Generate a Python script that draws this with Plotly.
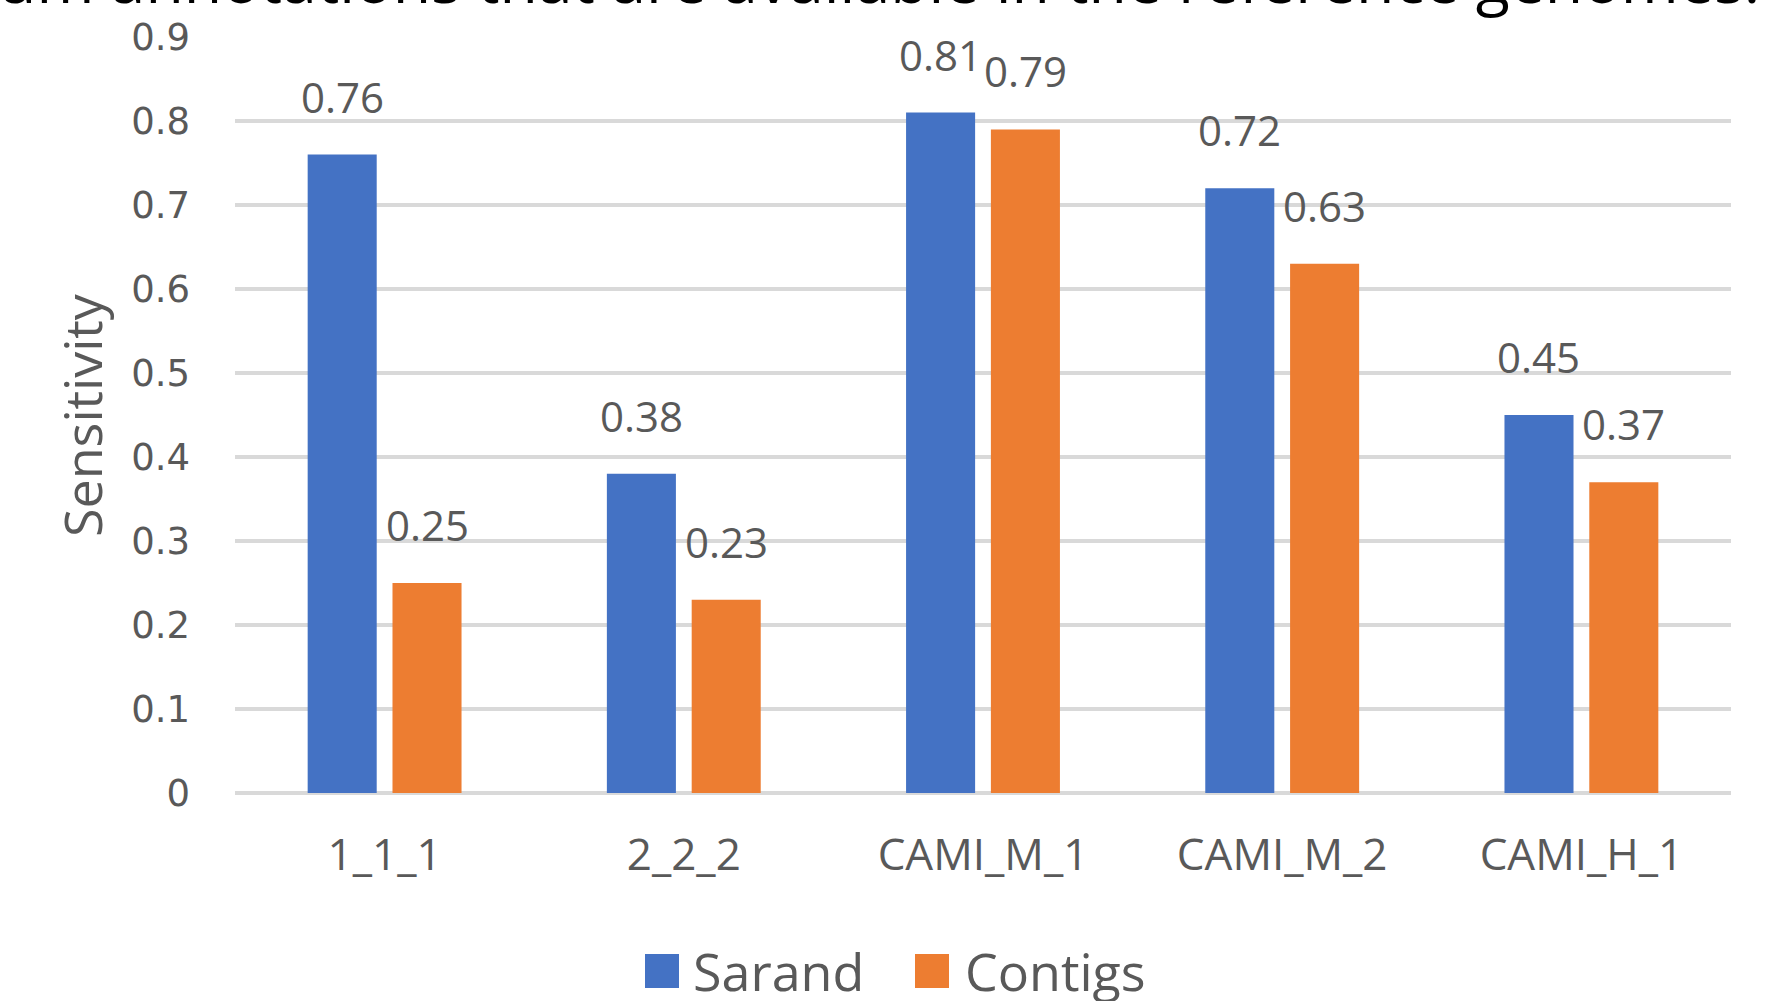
import plotly.graph_objects as go

categories = ["1_1_1", "2_2_2", "CAMI_M_1", "CAMI_M_2", "CAMI_H_1"]
series_names = ["Sarand", "Contigs"]
sarand = [0.76, 0.38, 0.81, 0.72, 0.45]
contigs = [0.25, 0.23, 0.79, 0.63, 0.37]
series_colors = ["#4472C4", "#ED7D31"]
y_tickvals = [0, 0.1, 0.2, 0.3, 0.4, 0.5, 0.6, 0.7, 0.8, 0.9]
y_ticktext = ["0", "0.1", "0.2", "0.3", "0.4", "0.5", "0.6", "0.7", "0.8", "0.9"]
y_title = "Sensitivity"
caption = "um annotations that are available in the reference genomes."

W, H = 1767, 1001
ML, MR, MT, MB = 235, 36, 37, 208
BARGAP = 0.433
BARGROUPGAP = 0.186
TEXT = "#595959"
FONT = "Open Sans"

fig = go.Figure()
values = [sarand, contigs]
for name, vals, col in zip(series_names, values, series_colors):
    fig.add_trace(go.Bar(x=categories, y=vals, name=name, marker_color=col,
                         marker_line_width=0, showlegend=False))

plot_w = W - ML - MR
plot_h = H - MT - MB
cat_w = plot_w / len(categories)
slot = cat_w * (1 - BARGAP) / 2
annotations = []
for vals, sign in zip(values, [-1, 1]):
    for c, v in zip(categories, vals):
        annotations.append(dict(x=c, y=v, xref="x", yref="y", text=f"{v:.2f}",
                                showarrow=False, xshift=sign * slot / 2, yshift=28,
                                yanchor="bottom", xanchor="center",
                                font=dict(family=FONT, size=42, color=TEXT)))

# y-axis title
annotations.append(dict(x=(81 - ML) / plot_w, y=0.5, xref="paper", yref="paper",
                        text=y_title, textangle=-90, showarrow=False,
                        xanchor="center", yanchor="middle",
                        font=dict(family=FONT, size=52, color=TEXT)))
# cut-off caption at top
annotations.append(dict(x=(-4 - ML) / plot_w, y=1.077, xref="paper", yref="paper",
                        text=caption, showarrow=False, xanchor="left", yanchor="middle",
                        font=dict(family=FONT, size=62.6, color="#000000")))

# custom legend
shapes = []
leg_items = [(645, 691), (915, 963)]
leg_cy = (H - MB - 971) / plot_h
sq = 34
for (sx, tx), name, col in zip(leg_items, series_names, series_colors):
    shapes.append(dict(type="rect", xref="paper", yref="paper",
                       x0=(sx - ML) / plot_w, x1=(sx + sq - ML) / plot_w,
                       y0=leg_cy - sq / 2 / plot_h, y1=leg_cy + sq / 2 / plot_h,
                       fillcolor=col, line=dict(width=0)))
    annotations.append(dict(x=(tx - ML) / plot_w, y=leg_cy, xref="paper", yref="paper",
                            text=name, showarrow=False, xanchor="left", yanchor="middle",
                            font=dict(family=FONT, size=52, color=TEXT)))

fig.update_layout(
    width=W, height=H,
    margin=dict(l=ML, r=MR, t=MT, b=MB, autoexpand=False),
    paper_bgcolor="white", plot_bgcolor="white",
    barmode="group", bargap=BARGAP, bargroupgap=BARGROUPGAP,
    annotations=annotations, shapes=shapes,
    showlegend=False,
    xaxis=dict(showgrid=False, showline=False, ticks="", ticklabelstandoff=32,
               tickfont=dict(family=FONT, size=44, color=TEXT)),
    yaxis=dict(range=[0, 0.9], tickvals=y_tickvals, ticktext=y_ticktext,
               showgrid=True, gridcolor="#D9D9D9", gridwidth=4,
               zeroline=True, zerolinecolor="#D9D9D9", zerolinewidth=4,
               showline=False, ticks="", ticklabelstandoff=44,
               tickfont=dict(family="DejaVu Sans", size=37, color=TEXT)),
)

fig.write_html("out.html", config={"displayModeBar": False},
               post_script="document.body.style.margin='0';document.body.style.overflow='hidden';")
